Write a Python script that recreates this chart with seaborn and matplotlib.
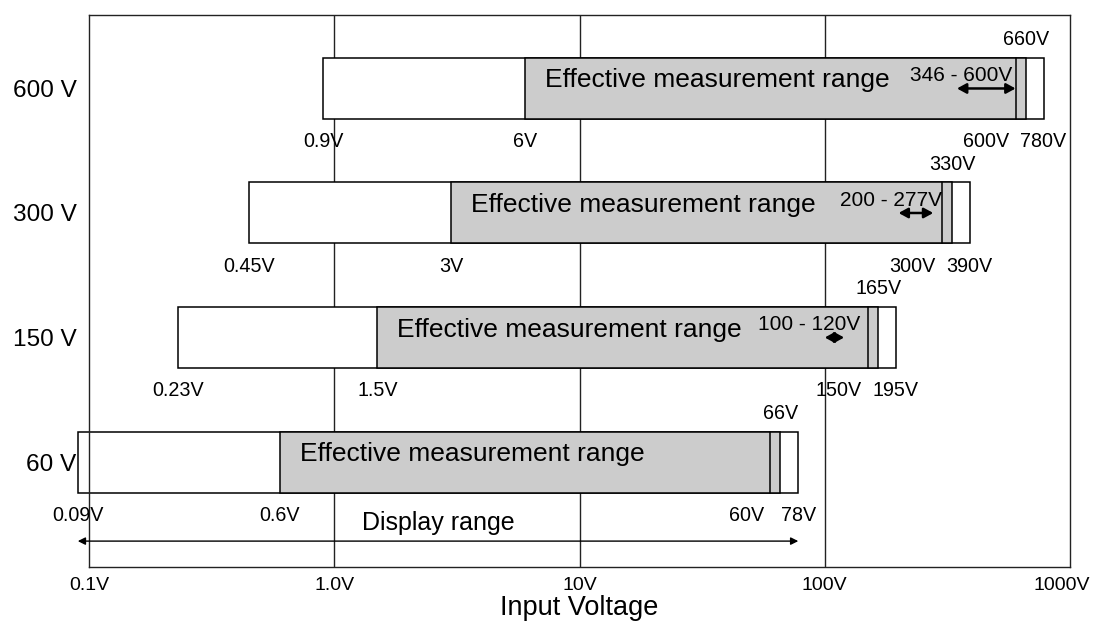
import matplotlib
matplotlib.use("Agg")
import matplotlib.pyplot as plt
import matplotlib.transforms as mtrans
import seaborn as sns
import pandas as pd

# ---- data ----
range_names = ["600 V", "300 V", "150 V", "60 V"]
low_limit = [0.9, 0.45, 0.23, 0.09]
effective_start = [6, 3, 1.5, 0.6]
rated = [600, 300, 150, 60]
peak = [660, 330, 165, 66]
display_max = [780, 390, 195, 78]
band_low = [346, 200, 100, None]
band_high = [600, 277, 120, None]
band_labels = ["346 - 600V", "200 - 277V", "100 - 120V", None]
x_ticks = [0.1, 1, 10, 100, 1000]
x_tick_labels = ["0.1V", "1.0V", "10V", "100V", "1000V"]
display_lo = 0.09
display_hi = 78

df = pd.DataFrame({"range": range_names, "low": low_limit, "eff": effective_start,
                   "rated": rated, "peak": peak, "max": display_max})

sns.set_theme(style="white")
plt.rcParams["font.family"] = ["Liberation Sans", "DejaVu Sans"]
for k in ["text.color", "axes.labelcolor", "xtick.color", "ytick.color"]:
    plt.rcParams[k] = "black"

W, H = 1093, 626
fig = plt.figure(figsize=(W / 100, H / 100), dpi=100)
ax = fig.add_axes([89 / W, 1 - 567 / H, (1070 - 89) / W, (567 - 15) / H])

ax.set_xscale("log")
ax.set_xlim(0.1, 1000)
ax.set_ylim(3.843, -0.590)

GRAY = "#cccccc"
EDGE = "black"
BAR_H = 0.49
LW = 1.1


def shift(px_x, px_y=0):
    return ax.transData + mtrans.ScaledTranslation(px_x / 100, px_y / 100, fig.dpi_scale_trans)


for gx in [1, 10, 100]:
    ax.axvline(gx, color="#222222", lw=1.0, zorder=1)

for i, r in df.iterrows():
    y = i
    ax.barh(y, r["max"] - r["low"], left=r["low"], height=BAR_H, color="white",
            edgecolor=EDGE, linewidth=LW, zorder=2, clip_on=False)
    ax.barh(y, r["peak"] - r["eff"], left=r["eff"], height=BAR_H, color=GRAY,
            edgecolor=EDGE, linewidth=LW, zorder=3, clip_on=False)
    ax.plot([r["rated"], r["rated"]], [y - BAR_H / 2, y + BAR_H / 2], color=EDGE,
            lw=LW, zorder=4)

    ax.text(r["eff"], y - 0.008, "Effective measurement range", fontsize=19,
            ha="left", va="baseline", zorder=5, transform=shift(20))

    below = y + BAR_H / 2 + 0.225
    above = y - BAR_H / 2 - 0.104
    fs = 14.2
    ax.text(r["low"], below, f"{r['low']:g}V", fontsize=fs, ha="center", va="baseline", zorder=5)
    ax.text(r["eff"], below, f"{r['eff']:g}V", fontsize=fs, ha="center", va="baseline", zorder=5)
    ax.text(r["rated"], below, f"{r['rated']:g}V", fontsize=fs, ha="right", va="baseline", zorder=5,
            transform=shift(-6))
    ax.text(r["max"], below, f"{r['max']:g}V", fontsize=fs, ha="center", va="baseline", zorder=5)
    ax.text(r["peak"], above, f"{r['peak']:g}V", fontsize=fs, ha="center", va="baseline", zorder=5)

    if band_low[i] is not None:
        ax.annotate("", xy=(band_high[i], y), xytext=(band_low[i], y),
                    arrowprops=dict(arrowstyle="<|-|>,head_length=0.55,head_width=0.3",
                                    color="black", lw=1.8,
                                    mutation_scale=10, shrinkA=0, shrinkB=0), zorder=6)
        mid = (band_low[i] * band_high[i]) ** 0.5
        ax.text(mid, y - 0.06, band_labels[i], fontsize=15, ha="center",
                va="baseline", zorder=5, transform=shift(-25))

ax.annotate("", xy=(display_hi, 3.635), xytext=(display_lo, 3.635),
            arrowprops=dict(arrowstyle="<|-|>", color="black", lw=1.0,
                            mutation_scale=11, shrinkA=0, shrinkB=0),
            annotation_clip=False, zorder=6)
ax.text((display_lo * display_hi) ** 0.5, 3.546, "Display range", fontsize=18,
        ha="center", va="baseline")

ax.set_xticks(x_ticks)
ax.set_xticklabels(x_tick_labels, fontsize=14)
ax.xaxis.set_minor_locator(matplotlib.ticker.NullLocator())
ax.set_yticks(range(len(range_names)))
ax.set_yticklabels(range_names, fontsize=17.6)
ax.tick_params(axis="x", length=0, pad=7)
ax.tick_params(axis="y", length=0, pad=9)
last = ax.get_xticklabels()[-1]
last.set_transform(last.get_transform() + mtrans.ScaledTranslation(-0.08, 0, fig.dpi_scale_trans))
ax.set_xlabel("Input Voltage", fontsize=19.5, labelpad=1)
ax.set_ylabel("")
ax.grid(False)
for s in ax.spines.values():
    s.set_color("#222222")
    s.set_linewidth(1.0)
    s.set_visible(True)

fig.savefig("out.png", dpi=100, facecolor="white")
